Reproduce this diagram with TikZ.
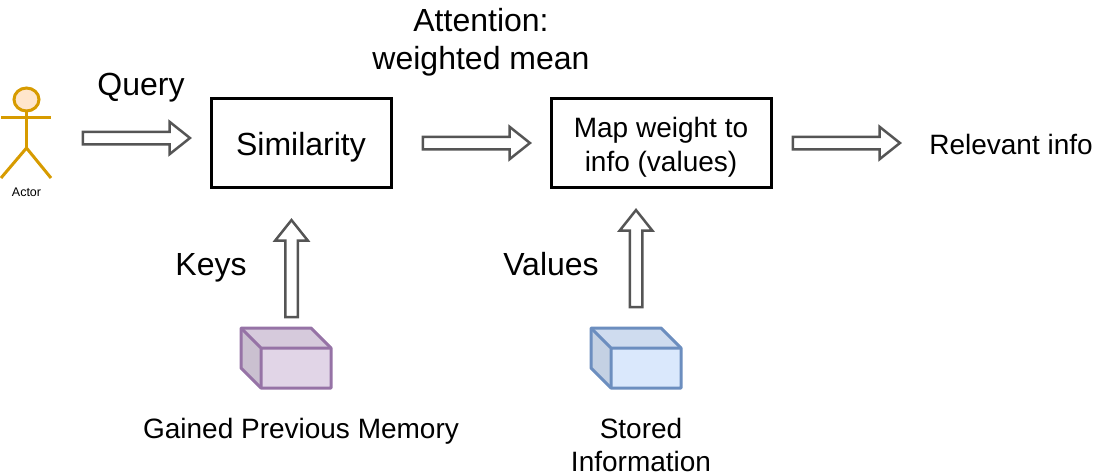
\documentclass[tikz,border=0pt]{standalone}
\usepackage{fontspec}
\setmainfont{Liberation Sans}
\usetikzlibrary{shapes.arrows}
\definecolor{actorline}{HTML}{D79B00}
\definecolor{actorfill}{HTML}{FFE6CC}
\definecolor{purpleline}{HTML}{9673A6}
\definecolor{purplefill}{HTML}{E1D5E7}
\definecolor{blueline}{HTML}{6C8EBF}
\definecolor{bluefill}{HTML}{DAE8FC}
\definecolor{arrowline}{HTML}{555555}
\begin{document}
\begin{tikzpicture}[
  x=1pt, y=-1pt,
  every node/.style = {align=center, inner sep=0pt, outer sep=0pt},
  biglabel/.style = {font=\fontsize{32}{38}\selectfont},
  midlabel/.style = {font=\fontsize{28}{33}\selectfont},
  mainbox/.style = {draw=black, line width=3pt, minimum height=89pt},
  blockarrow/.style = {single arrow, draw=arrowline, line width=2.5pt, fill=white,
    minimum height=107pt, minimum width=30pt, inner sep=5pt,
    single arrow head extend=10pt, single arrow tip angle=77, anchor=center},
]
\useasboundingbox (0,0) rectangle (1102,476);

% ── Actor ─────────────────────────────────────────────────────────────────
\draw[actorline, line width=3pt, fill=actorfill] (26.5,99.5) ellipse (12.5 and 11.5);
\draw[actorline, line width=3pt] (1,118) -- (51,118);
\draw[actorline, line width=3pt] (26.5,111) -- (26.5,148);
\draw[actorline, line width=3pt] (1,178) -- (26.5,148) -- (51,178);
\node (actor) [font=\fontsize{12.5}{14}\selectfont] at (26.5,192) {Actor};

% ── Boxes ─────────────────────────────────────────────────────────────────
\node (similarity) [mainbox, minimum width=180pt] at (301,143) {};
\node (similaritytext) [biglabel] at (301,147.5) {Similarity};
\node (mapweight) [mainbox, minimum width=220pt] at (661,143) {};
\node (mapweighttext) [font=\fontsize{28}{34}\selectfont] at (661,147) {Map weight to\\info (values)};

% ── Block arrows ──────────────────────────────────────────────────────────
\node (queryarrow) [blockarrow] at (132.5,138) {};
\node (simarrow) [blockarrow] at (472.5,143) {};
\node (maparrow) [blockarrow] at (842.5,143) {};
\node (keysarrow) [blockarrow, rotate=90, minimum height=97pt] at (291.5,272.5) {};
\node (valuesarrow) [blockarrow, rotate=90, minimum height=97pt] at (636,262.5) {};

% ── Cubes ─────────────────────────────────────────────────────────────────
\foreach \x/\cubeline/\cubefill in {241/purpleline/purplefill, 591/blueline/bluefill} {
  \fill[\cubefill] (\x+20,348) rectangle (\x+90,388);
  \fill[\cubefill!95!black] (\x,328) -- (\x+70,328) -- (\x+90,348) -- (\x+20,348) -- cycle;
  \fill[\cubefill!90!black] (\x,328) -- (\x+20,348) -- (\x+20,388) -- (\x,368) -- cycle;
  \draw[\cubeline, line width=3pt, line join=round]
    (\x,328) -- (\x+70,328) -- (\x+90,348) -- (\x+90,388) -- (\x+20,388) -- (\x,368) -- cycle;
  \draw[\cubeline, line width=3pt, line join=round]
    (\x,328) -- (\x+20,348) -- (\x+90,348) (\x+20,348) -- (\x+20,388);
}

% ── Labels ────────────────────────────────────────────────────────────────
\node (query) [biglabel] at (141,88) {Query};
\node (attention) [biglabel] at (481,42) {Attention:\\weighted mean};
\node (keys) [biglabel] at (211,268) {Keys};
\node (values) [biglabel] at (551,264) {Values};
\node (relevant) [midlabel] at (1011,144) {Relevant info};
\node (memory) [midlabel] at (301,431) {Gained Previous Memory};
\node (stored) [midlabel] at (641,444.5) {Stored\\Information};

\end{tikzpicture}
\end{document}
